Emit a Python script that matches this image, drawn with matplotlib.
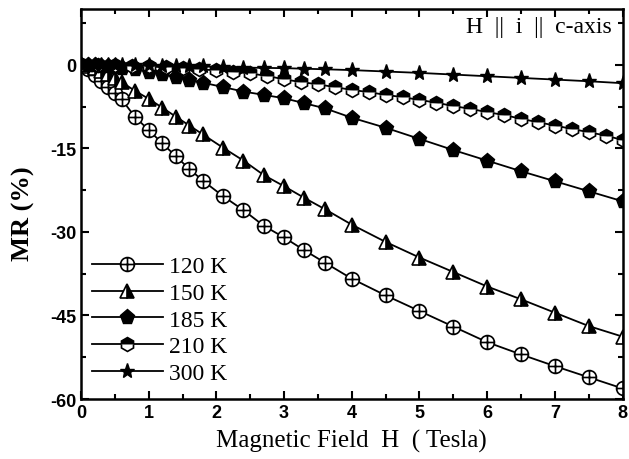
import numpy as np
import matplotlib
matplotlib.use('Agg')
import matplotlib.pyplot as plt
from matplotlib.path import Path
from matplotlib.ticker import MultipleLocator

plt.rcParams['font.family'] = ['Liberation Sans', 'DejaVu Sans']
plt.rcParams['font.weight'] = 'bold'
plt.rcParams['axes.unicode_minus'] = False

# 数据: 磁场 (Tesla) 与 MR (%)
field = [0, 0.1, 0.2, 0.3, 0.4, 0.5, 0.6, 0.8, 1.0, 1.2, 1.4, 1.6, 1.8, 2.1, 2.4,
         2.7, 3.0, 3.3, 3.6, 4.0, 4.5, 5.0, 5.5, 6.0, 6.5, 7.0, 7.5, 8.0]
mr_120 = [0, -0.8, -1.8, -2.9, -3.9, -5.0, -6.2, -9.4, -11.7, -14.1, -16.4, -18.7,
          -20.8, -23.6, -26.1, -28.9, -31.0, -33.3, -35.5, -38.4, -41.4, -44.2,
          -47.0, -49.8, -52.0, -54.1, -56.1, -58.1]
mr_150 = [0, -0.2, -0.6, -1.1, -1.7, -2.4, -3.1, -4.7, -6.1, -7.7, -9.3, -10.9,
          -12.5, -14.9, -17.2, -19.8, -21.8, -23.9, -25.9, -28.7, -31.8, -34.6,
          -37.2, -39.8, -42.1, -44.5, -46.9, -48.8]
mr_185 = [0, -0.05, -0.1, -0.2, -0.3, -0.4, -0.5, -0.8, -1.2, -1.7, -2.2, -2.7,
          -3.2, -4.0, -4.8, -5.4, -6.0, -6.9, -7.8, -9.5, -11.3, -13.3, -15.3,
          -17.2, -19.1, -20.9, -22.7, -24.5]
mr_300 = [0, 0, 0, 0, 0, -0.02, -0.03, -0.05, -0.1, -0.15, -0.2, -0.25, -0.3,
          -0.4, -0.5, -0.55, -0.6, -0.7, -0.8, -0.95, -1.2, -1.45, -1.75, -2.05,
          -2.35, -2.65, -2.95, -3.3]

field_210 = [0, 0.25, 0.5, 0.75, 1.0, 1.25, 1.5, 1.75, 2.0, 2.25, 2.5, 2.75, 3.0,
             3.25, 3.5, 3.75, 4.0, 4.25, 4.5, 4.75, 5.0, 5.25, 5.5, 5.75, 6.0,
             6.25, 6.5, 6.75, 7.0, 7.25, 7.5, 7.75, 8.0]
mr_210 = [0, -0.05, -0.1, -0.2, -0.3, -0.45, -0.6, -0.8, -1.0, -1.25, -1.55, -2.0,
          -2.6, -3.1, -3.5, -4.0, -4.5, -4.9, -5.4, -5.8, -6.3, -6.8, -7.4, -7.9,
          -8.5, -9.0, -9.7, -10.3, -10.9, -11.5, -12.1, -12.7, -13.5]

labels = ['120 K', '150 K', '185 K', '210 K', '300 K']

# 圆圈加十字标记
circ_plus = Path.make_compound_path(Path.unit_circle(),
                                    Path([[-1, 0], [1, 0]]),
                                    Path([[0, -1], [0, 1]]))

fig = plt.figure(figsize=(6.29, 4.60), dpi=100)
ax = fig.add_axes([0.1288, 0.1304, 0.861, 0.8476])

lw = 1.3
ax.plot(field, mr_120, color='k', lw=lw, marker=circ_plus, ms=10, mfc='white',
        mec='k', mew=1.2, label=labels[0])
ax.plot(field, mr_150, color='k', lw=lw, marker='^', ms=10, fillstyle='right',
        mfc='k', mfcalt='white', mec='k', mew=1.2, label=labels[1])
ax.plot(field, mr_185, color='k', lw=lw, marker='p', ms=11, mfc='k', mec='k',
        label=labels[2])
ax.plot(field_210, mr_210, color='k', lw=lw, marker='h', ms=10, fillstyle='top',
        mfc='k', mfcalt='white', mec='k', mew=1.2, label=labels[3])
ax.plot(field, mr_300, color='k', lw=lw, marker='*', ms=11, mfc='k', mec='k',
        label=labels[4])

ax.set_xlim(0, 8)
ax.set_ylim(-60, 10)
ax.xaxis.set_major_locator(MultipleLocator(1))
ax.xaxis.set_minor_locator(MultipleLocator(0.5))
ax.yaxis.set_major_locator(MultipleLocator(15))
ax.yaxis.set_minor_locator(MultipleLocator(7.5))
ax.tick_params(which='both', direction='in', top=True, right=True, width=1.5,
               labelsize=13)
ax.tick_params(which='major', length=6)
ax.tick_params(which='minor', length=3.5)
for s in ax.spines.values():
    s.set_linewidth(1.8)

ax.set_xlabel('Magnetic Field  H  ( Tesla)', family='Liberation Serif',
              fontweight='normal', fontsize=18, labelpad=6)
ax.set_ylabel('MR (%)', family='Liberation Serif', fontsize=19, fontweight='bold')
ax.yaxis.set_label_coords(-0.085, 0.477)

ax.text(0.98, 0.955, 'H  ||  i  ||  c-axis', transform=ax.transAxes, ha='right',
        va='center', family='Liberation Serif', fontweight='normal', fontsize=17)

leg = ax.legend(loc='lower left', bbox_to_anchor=(-0.006, 0.002), frameon=False,
                prop={'family': 'Liberation Serif', 'size': 17, 'weight': 'normal'},
                handlelength=3.0, handletextpad=0.25, labelspacing=0.22,
                borderaxespad=0.2)

plt.savefig('out.png', dpi=100)
